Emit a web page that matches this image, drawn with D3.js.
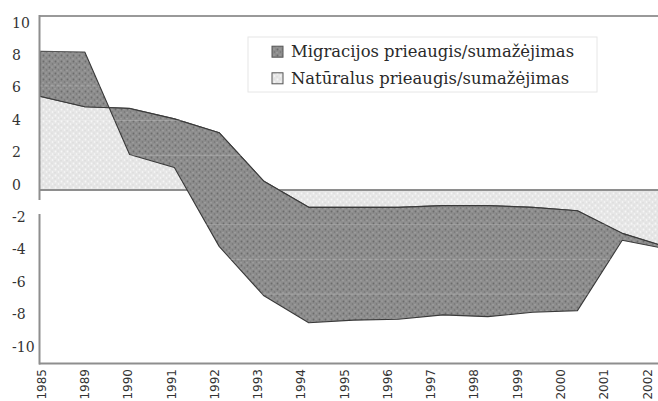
<!DOCTYPE html>
<html>
<head>
<meta charset="utf-8">
<script src="https://cdn.jsdelivr.net/npm/d3@7"></script>
<style>
  body { margin: 0; background: #fff; }
  .ylab { font-family: "DejaVu Serif", serif; font-size: 14px; fill: #333; }
  .xlab { font-family: "DejaVu Sans", sans-serif; font-size: 12px; fill: #333; }
  .leg { font-family: "DejaVu Serif", serif; font-size: 16.4px; fill: #2a2a2a; }
</style>
</head>
<body>
<div id="chart"></div>
<script>
// data (per 1000 inhabitants)
var years = ["1985", "1989", "1990", "1991", "1992", "1993", "1994", "1995",
             "1996", "1997", "1998", "1999", "2000", "2001", "2002"];
var natural = [5.4, 4.8, 4.7, 4.1, 3.3, 0.5, -1.0, -1.0, -1.0, -0.9, -0.9, -1.0, -1.2, -2.5, -3.3];
var migration = [2.6, 3.15, -2.65, -2.8, -6.55, -6.6, -6.65, -6.5, -6.45, -6.3, -6.4, -6.05, -5.75, -0.4, -0.1];
var yTicks = [10, 8, 6, 4, 2, 0, -2, -4, -6, -8, -10];
var legendLabels = ["Migracijos prieaugis/sumažėjimas", "Natūralus prieaugis/sumažėjimas"];

var width = 658, height = 401;
var pLeft = 40, pRight = 658, pTop = 16, pBottom = 363.5;

var rows = years.map(function (yr, i) {
  return { year: yr, nat: natural[i], tot: natural[i] + migration[i] };
});

var x = d3.scalePoint().domain(years).range([pLeft, 667]);   // data runs past the cropped edge
var xLab = d3.scalePoint().domain(years).range([41.7, 647.3]);
var y = d3.scaleLinear().domain([-10, 10]).range([pBottom, pTop + 0.5]);
var yLab = d3.scaleLinear().domain([-10, 10]).range([346.7, 22.7]);

var svg = d3.select("#chart").append("svg")
  .attr("width", width)
  .attr("height", height);

var defs = svg.append("defs");

// textured fills
var dark = defs.append("pattern").attr("id", "darkTex")
  .attr("patternUnits", "userSpaceOnUse").attr("width", 6).attr("height", 6);
dark.append("rect").attr("width", 6).attr("height", 6).attr("fill", "#8d8d8d");
[[1.5, 1.5, 0.9, "#6c6c6c"], [4.5, 4, 0.8, "#737373"], [4, 1, 0.6, "#b3b3b3"],
 [1, 4.8, 0.7, "#a8a8a8"]].forEach(function (c) {
  dark.append("circle").attr("cx", c[0]).attr("cy", c[1]).attr("r", c[2]).attr("fill", c[3]);
});

var light = defs.append("pattern").attr("id", "lightTex")
  .attr("patternUnits", "userSpaceOnUse").attr("width", 6).attr("height", 6);
light.append("rect").attr("width", 6).attr("height", 6).attr("fill", "#e6e6e6");
[[1.5, 1.5, 0.9, "#f7f7f7"], [4.5, 4, 0.8, "#fafafa"], [4, 1, 0.6, "#d5d5d5"],
 [1, 4.8, 0.7, "#d9d9d9"]].forEach(function (c) {
  light.append("circle").attr("cx", c[0]).attr("cy", c[1]).attr("r", c[2]).attr("fill", c[3]);
});

defs.append("clipPath").attr("id", "plotClip")
  .append("rect").attr("x", pLeft).attr("y", pTop).attr("width", pRight - pLeft).attr("height", pBottom - pTop);

var plot = svg.append("g").attr("clip-path", "url(#plotClip)");

var natArea = d3.area()
  .x(function (d) { return x(d.year); })
  .y0(y(0))
  .y1(function (d) { return y(d.nat); });

var migArea = d3.area()
  .x(function (d) { return x(d.year); })
  .y0(function (d) { return y(d.nat); })
  .y1(function (d) { return y(d.tot); });

plot.append("path").datum(rows)
  .attr("d", natArea)
  .attr("fill", "url(#lightTex)");

plot.append("path").datum(rows)
  .attr("d", d3.line().x(function (d) { return x(d.year); }).y(function (d) { return y(d.nat); }))
  .attr("fill", "none").attr("stroke", "#444").attr("stroke-width", 1.2);

// zero line sits under the migration band
plot.append("line")
  .attr("x1", pLeft).attr("x2", pRight).attr("y1", y(0)).attr("y2", y(0))
  .attr("stroke", "#8e8e8e").attr("stroke-width", 2);

plot.append("path").datum(rows)
  .attr("d", migArea)
  .attr("fill", "url(#darkTex)")
  .attr("stroke", "#3a3a3a")
  .attr("stroke-width", 1.1)
  .attr("stroke-linejoin", "round");

// faint grid lines showing through the fills
plot.selectAll(".grid").data(yTicks.filter(function (t) { return t !== 0 && t !== 10 && t !== -10; }))
  .enter().append("line")
  .attr("class", "grid")
  .attr("x1", pLeft).attr("x2", pRight)
  .attr("y1", function (d) { return y(d); }).attr("y2", function (d) { return y(d); })
  .attr("stroke", "#fff").attr("stroke-opacity", 0.2).attr("stroke-width", 1);

// frame
svg.append("line").attr("x1", pLeft).attr("x2", pRight).attr("y1", pTop).attr("y2", pTop)
  .attr("stroke", "#999").attr("stroke-width", 2);
svg.append("line").attr("x1", pLeft - 1).attr("x2", pRight).attr("y1", pBottom).attr("y2", pBottom)
  .attr("stroke", "#8e8e8e").attr("stroke-width", 2);
svg.append("line").attr("x1", pLeft - 0.5).attr("x2", pLeft - 0.5).attr("y1", pTop - 1).attr("y2", pBottom + 1)
  .attr("stroke", "#8e8e8e").attr("stroke-width", 2);
// the scan leaves a gap in the axis next to "-2"
svg.append("rect").attr("x", pLeft - 3).attr("y", 200).attr("width", 5).attr("height", 14).attr("fill", "#fff");

// y tick labels
svg.append("g").selectAll("text").data(yTicks).enter().append("text")
  .attr("class", "ylab")
  .attr("x", 12)
  .attr("y", function (d) { return yLab(d); })
  .attr("dy", "0.35em")
  .text(function (d) { return d; });

// x tick labels, rotated
svg.append("g").selectAll("text").data(years).enter().append("text")
  .attr("class", "xlab")
  .attr("transform", function (d) { return "translate(" + xLab(d) + ",369) rotate(-90)"; })
  .attr("text-anchor", "end")
  .attr("dy", "0.35em")
  .text(function (d) { return d; });

// legend
var legend = svg.append("g");
legend.append("rect")
  .attr("x", 248).attr("y", 37).attr("width", 349).attr("height", 55)
  .attr("fill", "#fff").attr("stroke", "#e6e6e6");
var fills = ["url(#darkTex)", "url(#lightTex)"];
legendLabels.forEach(function (t, i) {
  var cy = 51.7 + i * 26.6;
  legend.append("rect")
    .attr("x", 272).attr("y", cy - 5.5).attr("width", 11).attr("height", 11)
    .attr("fill", fills[i]).attr("stroke", "#555").attr("stroke-width", 1);
  legend.append("text")
    .attr("class", "leg")
    .attr("x", 291).attr("y", cy).attr("dy", "0.35em")
    .text(t);
});
</script>
</body>
</html>
